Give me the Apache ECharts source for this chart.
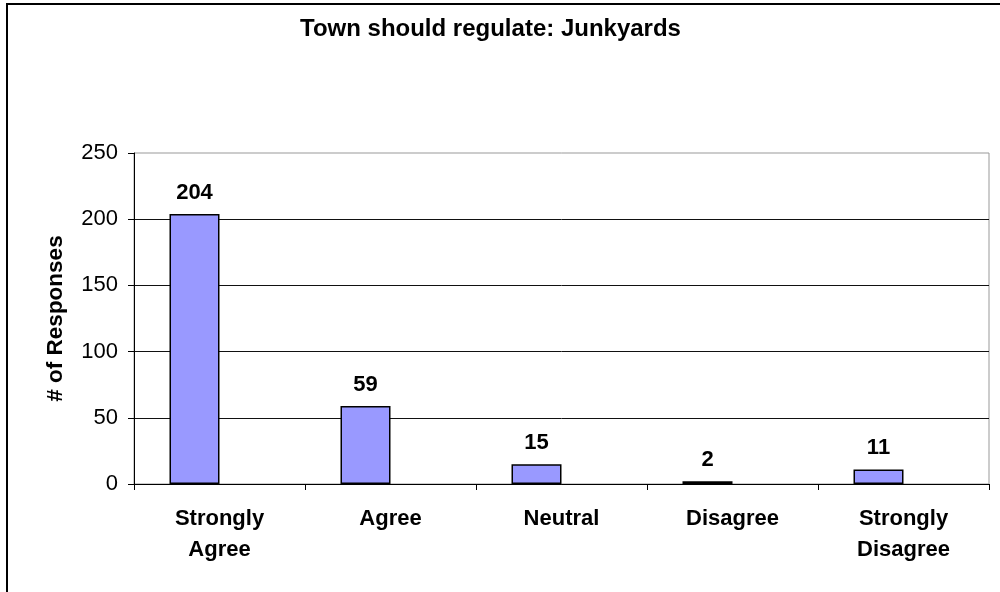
<!DOCTYPE html>
<html>
<head>
<meta charset="utf-8">
<script src="https://cdn.jsdelivr.net/npm/echarts@6/dist/echarts.min.js"></script>
<style>
html,body{margin:0;padding:0;background:#fff;}
#chart{width:1000px;height:592px;}
</style>
</head>
<body>
<div id="chart"></div>
<script>
const titleText = 'Town should regulate: Junkyards';
const categories = ['Strongly\nAgree', 'Agree', 'Neutral', 'Disagree', 'Strongly\nDisagree'];
const responses = [204, 59, 15, 2, 11];
const emptySeries = [null, null, null, null, null];
const yAxisName = '# of Responses';
const yMin = 0, yMax = 250, yStep = 50;

const FONT = "'Liberation Sans', Arial, sans-serif";
const chart = echarts.init(document.getElementById('chart'), null, {renderer: 'canvas'});
chart.setOption({
  animation: false,
  backgroundColor: '#fff',
  title: {
    text: titleText,
    left: 295, top: 12,
    textStyle: {fontFamily: FONT, fontSize: 24, fontWeight: 'bold', color: '#000'}
  },
  graphic: [{
    type: 'rect', silent: true, z: 100,
    shape: {x: 7, y: 4, width: 1010, height: 620},
    style: {fill: 'none', stroke: '#000', lineWidth: 2}
  }],
  grid: {
    left: 134, right: 11, top: 153, bottom: 108,
    show: true, borderColor: '#999', borderWidth: 1, backgroundColor: 'transparent'
  },
  xAxis: {
    type: 'category',
    data: categories,
    axisLine: {lineStyle: {color: '#000', width: 1}},
    axisTick: {show: true, interval: 0, length: 6, alignWithLabel: false, lineStyle: {color: '#000'}},
    axisLabel: {
      interval: 0, margin: 19, color: '#000',
      fontFamily: FONT, fontSize: 22, fontWeight: 'bold', lineHeight: 31
    },
    splitLine: {show: false}
  },
  yAxis: {
    type: 'value',
    min: yMin, max: yMax, interval: yStep,
    name: yAxisName,
    nameLocation: 'middle',
    nameRotate: 90,
    nameGap: 67,
    nameTextStyle: {fontFamily: FONT, fontSize: 22.5, fontWeight: 'bold', color: '#000'},
    axisLine: {show: true, lineStyle: {color: '#000', width: 1}},
    axisTick: {show: true, length: 6, lineStyle: {color: '#000'}},
    axisLabel: {margin: 16, color: '#000', fontFamily: FONT, fontSize: 22},
    splitLine: {show: true, showMaxLine: false, lineStyle: {color: '#111', width: 1}}
  },
  series: [{
    type: 'bar',
    data: responses,
    barWidth: 50,
    barGap: 0,
    itemStyle: {color: '#9999FF', borderColor: '#000', borderWidth: 1.5},
    label: {
      show: true, position: 'top', distance: 10, color: '#000',
      fontFamily: FONT, fontSize: 22, fontWeight: 'bold'
    }
  }, {
    type: 'bar',
    data: emptySeries,
    barWidth: 50,
    barGap: 0,
    itemStyle: {color: '#993366'}
  }]
});
</script>
</body>
</html>
